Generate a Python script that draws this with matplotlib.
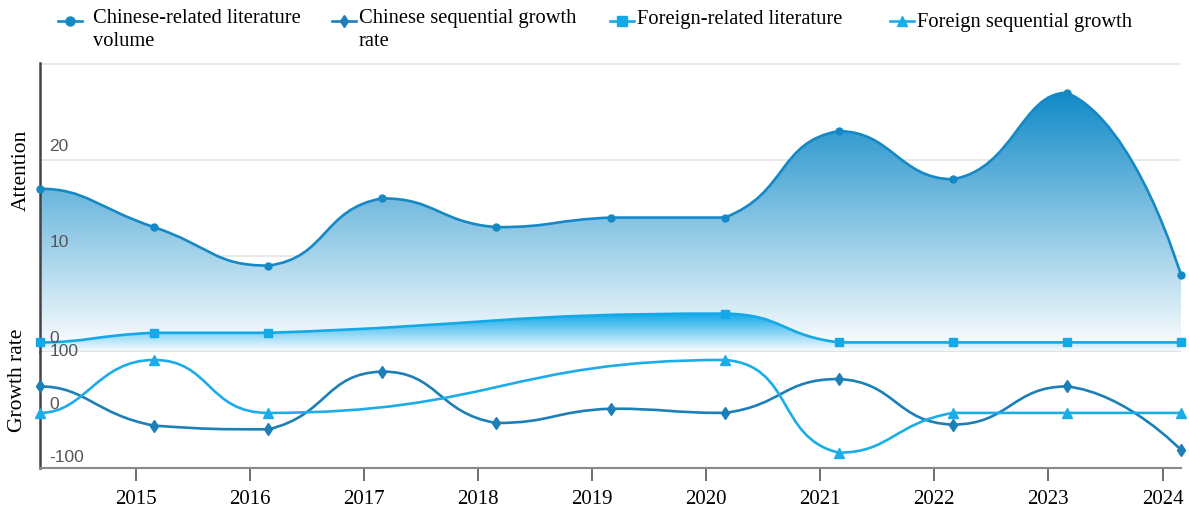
import numpy as np
import matplotlib
matplotlib.use("Agg")
import matplotlib.pyplot as plt
from matplotlib.path import Path
from matplotlib.patches import PathPatch
from matplotlib.colors import LinearSegmentedColormap
from matplotlib.lines import Line2D

years = [2014, 2015, 2016, 2017, 2018, 2019, 2020, 2021, 2022, 2023, 2024]
tick_years = years[1:]
cn_volume = [17, 13, 9, 16, 13, 14, 14, 23, 18, 27, 8]
cn_growth = [50, -24, -31, 78, -19, 8, 0, 64, -22, 50, -70]
fr_volume = [1, 2, 2, None, None, None, 4, 1, 1, 1, 1]
fr_growth = [0, 100, 0, None, None, None, 100, -75, 0, 0, 0]

C_CN = "#1589c6"
C_CN_G = "#1c7fb8"
C_FR = "#13a8e6"
C_FR_G = "#1cade8"
SERIF = ["Liberation Serif", "DejaVu Serif"]
SANS = ["Liberation Sans", "DejaVu Sans"]


def smooth_path(vals, sx, sy, s=0.5):
    # echarts-like smoothing, null points are skipped (connectNulls)
    pts = [(i, v) for i, v in enumerate(vals) if v is not None]
    P = np.array(pts, dtype=float)
    n = len(P)
    cin = P.copy()
    cout = P.copy()
    for i in range(n):
        x, y = P[i]
        if i == 0:
            dx = P[1, 0] - x
            cout[i] = (x + 0.4 * dx, y)
            continue
        if i == n - 1:
            cin[i] = P[i]
            continue
        px, py = P[i - 1]
        nx, ny = P[i + 1]
        vx, vy = nx - px, ny - py
        d0 = np.hypot((x - px) * sx, (y - py) * sy)
        d1 = np.hypot((nx - x) * sx, (ny - y) * sy)
        r = d1 / (d0 + d1)
        ox, oy = x + vx * s * r, y + vy * s * r
        ix, iy = x - vx * s * (1 - r), y - vy * s * (1 - r)
        oy = min(max(oy, min(y, ny)), max(y, ny))
        iy = min(max(iy, min(y, py)), max(y, py))
        ox = min(max(ox, min(x, nx)), max(x, nx))
        ix = min(max(ix, min(x, px)), max(x, px))
        cout[i] = (ox, oy)
        cin[i] = (ix, iy)
    verts = [tuple(P[0])]
    codes = [Path.MOVETO]
    for i in range(1, n):
        verts += [tuple(cout[i - 1]), tuple(cin[i]), tuple(P[i])]
        codes += [Path.CURVE4] * 3
    return verts, codes, P


def draw_series(ax, vals, sx, sy, color, marker, ms, fill=None, ymax=None):
    verts, codes, P = smooth_path(vals, sx, sy)
    if fill is not None:
        fv = verts + [(P[-1, 0], 0), (P[0, 0], 0), (P[0, 0], 0)]
        fc = codes + [Path.LINETO, Path.LINETO, Path.CLOSEPOLY]
        patch = PathPatch(Path(fv, fc), facecolor="none", edgecolor="none")
        ax.add_patch(patch)
        cmap = LinearSegmentedColormap.from_list("g", ["#ffffff", fill])
        grad = np.linspace(0, 1, 256).reshape(-1, 1)
        im = ax.imshow(grad, cmap=cmap, origin="lower", aspect="auto",
                       extent=[P[0, 0], P[-1, 0], 0, ymax], zorder=1,
                       vmin=0, vmax=1)
        im.set_clip_path(patch)
    ax.add_patch(PathPatch(Path(verts, codes), facecolor="none", edgecolor=color,
                           lw=1.9, zorder=3, clip_on=False))
    ax.plot(P[:, 0], P[:, 1], ls="none", marker=marker, ms=ms, color=color,
            zorder=4, clip_on=False)


fig = plt.figure(figsize=(11.89, 5.08), dpi=100)
ax1 = fig.add_axes([40 / 1189, 156 / 508, 1141 / 1189, 289 / 508])
ax2 = fig.add_axes([40 / 1189, 40 / 508, 1141 / 1189, 116 / 508])

# top panel: attention
ax1.set_xlim(0, 10)
ax1.set_ylim(0, 30.1)
for g in [10, 20, 30]:
    ax1.axhline(g, color="#e6e6e6", lw=1.3, zorder=0)
draw_series(ax1, cn_volume, 114, 9.6, C_CN, "o", 5, fill="#118ac8", ymax=max(cn_volume))
draw_series(ax1, fr_volume, 114, 9.6, C_FR, "s", 6, fill="#0ea8ea",
            ymax=max(v for v in fr_volume if v is not None))
ax1.axhline(0, color="#e2e2e2", lw=2.5, zorder=2)
for g in [0, 10, 20]:
    ax1.text(0.08, g + 0.6, str(g), fontsize=12.5, color="#555555", family=SANS,
             va="bottom", ha="left", zorder=5)
ax1.set_xticks([])
ax1.set_yticks([])
for sp in ["top", "right", "bottom"]:
    ax1.spines[sp].set_visible(False)
ax1.spines["left"].set_color("#444444")
ax1.spines["left"].set_linewidth(1.8)
ax1.set_ylabel("Attention", family=SERIF, fontsize=15.5)
ax1.yaxis.set_label_coords(-0.008, 0.63)

# bottom panel: growth rate
ax2.set_xlim(0, 10)
ax2.set_ylim(-104, 115)
draw_series(ax2, cn_growth, 114, 0.53, C_CN_G, "d", 6)
draw_series(ax2, fr_growth, 114, 0.53, C_FR_G, "^", 6.5)
for g in [100, 0, -100]:
    ax2.text(0.08, g + 2, str(g), fontsize=12.5, color="#555555", family=SANS,
             va="bottom", ha="left", zorder=5)
ax2.set_yticks([])
ax2.set_xticks([i - 0.162 for i in range(1, 11)])
ax2.set_xticklabels([str(y) for y in tick_years], family=SERIF, fontsize=15)
ax2.tick_params(axis="x", length=9, width=1.2, color="#555555", pad=7)
for sp in ["top", "right"]:
    ax2.spines[sp].set_visible(False)
ax2.spines["left"].set_color("#444444")
ax2.spines["left"].set_linewidth(1.8)
ax2.spines["bottom"].set_color("#888888")
ax2.spines["bottom"].set_linewidth(1.5)
ax2.set_ylabel("Growth rate", family=SERIF, fontsize=15.5)
ax2.yaxis.set_label_coords(-0.011, 0.76)

# legend
entries = [
    (70, "Chinese-related literature\nvolume", C_CN, "o", 93, 9),
    (344, "Chinese sequential growth\nrate", C_CN_G, "d", 359, 9),
    (622, "Foreign-related literature", C_FR, "s", 637, 10),
    (902, "Foreign sequential growth", C_FR_G, "^", 917, 13),
]
for mx, label, color, marker, tx, ty in entries:
    y = 1 - 21 / 508
    fig.add_artist(Line2D([(mx - 12) / 1189, (mx + 12) / 1189], [y, y],
                          color=color, lw=1.9, transform=fig.transFigure))
    fig.add_artist(Line2D([mx / 1189], [y], marker=marker, ms=6.5, color=color,
                          transform=fig.transFigure))
    fig.text(tx / 1189, 1 - ty / 508, label, family=SERIF, fontsize=14.8,
             va="top", ha="left", linespacing=1.3)

fig.savefig("out.png", dpi=100)
